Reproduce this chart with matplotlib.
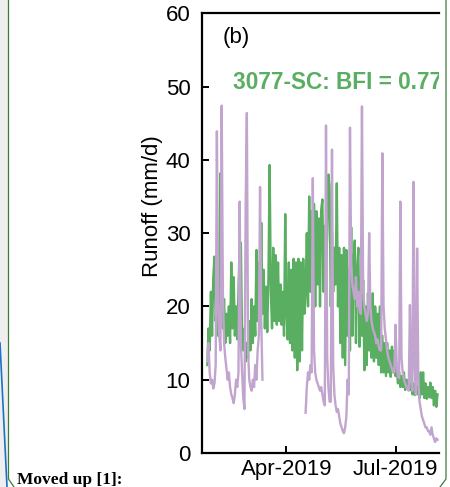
import matplotlib
matplotlib.use("Agg")
import matplotlib.pyplot as plt
import matplotlib.dates as mdates
from matplotlib.lines import Line2D
from matplotlib.patches import Rectangle
import numpy as np
import pandas as pd

# daily runoff (mm/d)
start_date = "2019-01-25"

green_q = [12, 17, 14, 22, 16, 24, 26.8, 18, 21, 16,
           24, 38.2, 22, 17, 21, 15, 19, 16, 20, 15,
           26, 17, 24, 16, 20, 15.5, 22, 28.5, 28.7, 16,
           14, 17, 12.5, 15, 13, 18, 14, 21, 15, 20,
           16, 27.7, 18, 26, 17, 31.4, 19, 25, 17, 22.7,
           16.5, 24, 39.3, 22, 17, 28, 18, 27, 17.5, 26,
           18, 23, 17.5, 22, 16, 32.6, 19, 15.5, 26, 15,
           25, 14, 26.5, 13, 26, 11.3, 26.5, 12.5, 26, 14,
           26.5, 19, 22, 30, 20, 35, 22, 33, 21, 34,
           20, 33, 23, 32, 20, 33.2, 34.6, 22, 31, 24,
           30, 38, 36.3, 20, 30, 22, 28, 23, 36.8, 20,
           28, 15, 27, 13, 28, 12, 27.7, 16, 25, 14,
           30.8, 16, 26, 29, 15, 25, 28, 14.5, 24, 16,
           23.6, 11.3, 20, 12, 21.8, 14, 21, 13, 21.8, 12.5,
           20, 13, 19, 12, 20, 11, 16, 11, 15, 10.5,
           15, 11, 14, 10.4, 14.5, 11, 14, 10.5, 11.5, 9.5,
           11, 9, 10.5, 9, 11, 8.6, 10, 8.8, 10, 8.6,
           9.5, 8, 9.5, 7.9, 9, 8, 9.2, 7.5, 11, 8,
           11, 7.5, 9.5, 7.4, 9, 7.6, 9.6, 7.5, 9, 6.5,
           8.5, 6.3, 8]

purple_before_gap = [12.5, 15, 11, 9.5, 10, 8.8, 9.5, 12, 43.9, 20,
                     16, 14, 47.4, 22, 15, 13, 11.5, 10, 11, 9,
                     8, 7.5, 6.8, 8, 10, 9, 11, 34.3, 15, 11,
                     7.5, 6, 34, 46.4, 14, 10, 9, 8.5, 10, 9,
                     12, 10, 14, 16, 36.3, 18, 10]
gap_days = 35
purple_after_gap = [5.5, 9, 11, 10, 12, 11, 37.5, 14,
                    11, 10, 9.5, 9, 8.5, 9, 8, 7, 6.5, 44.7,
                    13, 9, 7, 7, 41.4, 12, 8, 6.5, 5.6, 6,
                    5, 4, 3.5, 3, 2.7, 3.5, 5, 10, 8, 44.4,
                    26, 23, 22, 21, 24, 20, 22, 19.5, 19, 47.3,
                    22, 20, 19, 18, 19, 30, 20, 18, 17, 16.5,
                    16, 15, 15.5, 14.5, 14, 14, 40.9, 20, 17, 15.5,
                    14, 13, 12.5, 12, 11.5, 11, 11, 17.5, 12, 10.5,
                    10.2, 34.3, 13, 11, 10, 9.5, 9, 8.8, 8.5, 20.2,
                    10, 8.5, 37, 12, 8, 27.9, 10, 7, 6, 5,
                    4.5, 4, 3.5, 3.5, 3, 3, 2.5, 3.5, 2.5, 2,
                    1.5, 2, 1.8]

label_text = "3077-SC: BFI = 0.77"

plt.rcParams['font.family'] = ['Liberation Sans', 'DejaVu Sans']

dates = pd.date_range(start_date, periods=len(green_q), freq="D")
purple_q = np.array(purple_before_gap + [np.nan] * gap_days + purple_after_gap)

fig = plt.figure(figsize=(4.5, 4.87), dpi=100)

# page bits around the panel
fig.patches.append(Rectangle((0, 0), 8 / 450, 1, transform=fig.transFigure,
                             facecolor="#efefef", edgecolor="none"))
fig.add_artist(Line2D([8.5 / 450, 8.5 / 450, 14 / 450], [1, 8 / 487, 0],
                      transform=fig.transFigure, color="#3d7a3d", lw=0.9))
fig.add_artist(Line2D([446 / 450, 446 / 450, 440 / 450], [1, 8 / 487, 0],
                      transform=fig.transFigure, color="#3d7a3d", lw=0.9))
fig.add_artist(Line2D([0, 7 / 450], [144 / 487, 0],
                      transform=fig.transFigure, color="#1a73c9", lw=1.2))
fig.text(17 / 450, 2.5 / 487, "Moved up [1]:", family="Liberation Serif",
         fontweight="bold", fontsize=12.5, va="baseline", ha="left")

ax = fig.add_axes([201.7 / 450, 34 / 487, 237.3 / 450, 439.7 / 487])
ax.plot(dates, green_q, color="#5aae61", lw=1.7)
ax.plot(dates, purple_q, color="#c2a5cf", lw=1.7)

ax.set_ylim(0, 60)
ax.set_yticks([0, 10, 20, 30, 40, 50, 60])
ax.set_xlim(pd.Timestamp("2019-01-20 08:00"), pd.Timestamp("2019-08-06 06:00"))
ax.xaxis.set_major_locator(mdates.MonthLocator(bymonth=[4, 7]))
ax.xaxis.set_major_formatter(mdates.DateFormatter("%b-%Y"))

ax.spines["right"].set_visible(False)
for s in ["left", "bottom", "top"]:
    ax.spines[s].set_linewidth(1.6)
ax.tick_params(direction="in", length=5, width=1.4, labelsize=16)
ax.tick_params(axis="y", pad=8)
ax.tick_params(axis="x", pad=4)

ax.set_ylabel("Runoff (mm/d)", fontsize=16)
ax.yaxis.set_label_coords(-0.163, 0.561)

ax.text(0.088, 0.945, "(b)", transform=ax.transAxes, fontsize=16,
        ha="left", va="center")
t = ax.text(0.131, 0.842, label_text, transform=ax.transAxes, fontsize=16.3,
            fontweight="bold", color="#5aae61", ha="left", va="center")
t.set_clip_on(True)
t.set_clip_path(ax.patch)

plt.savefig("out.png", dpi=100)
